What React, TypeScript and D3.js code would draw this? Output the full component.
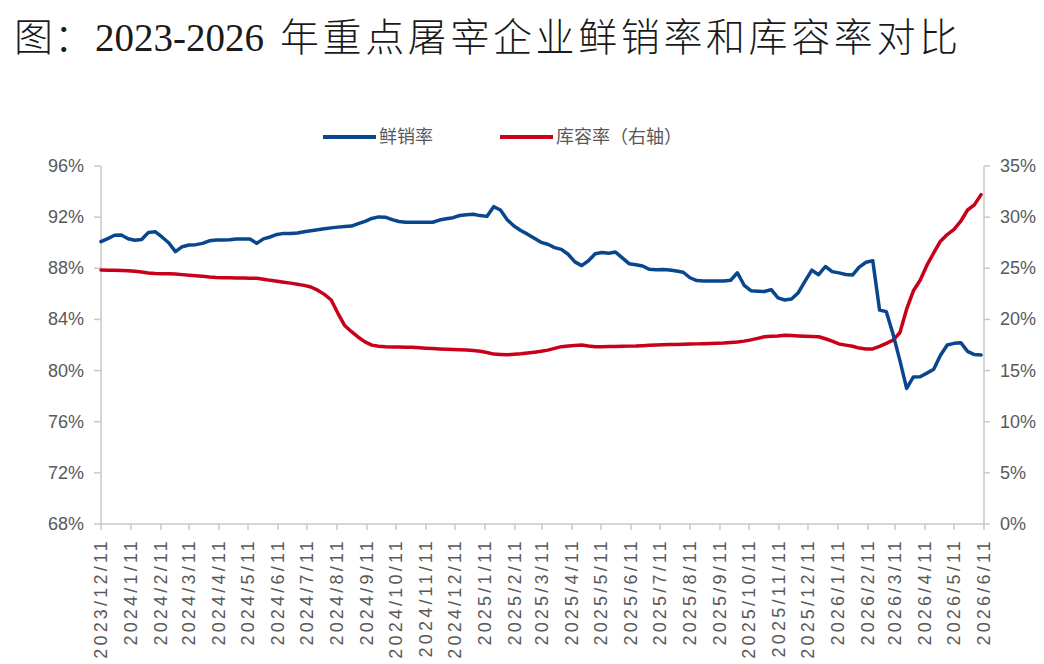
import React from "react";
import * as d3 from "d3";

// 鲜销率 (%), weekly from 2023/12/11
const freshSales: number[] = [
  90.08, 90.32, 90.58, 90.6, 90.31, 90.19, 90.25, 90.8, 90.86, 90.45,
  90.0, 89.3, 89.69, 89.82, 89.85, 89.95, 90.15, 90.21, 90.21, 90.23,
  90.29, 90.29, 90.29, 89.95, 90.3, 90.45, 90.65, 90.73, 90.73, 90.76,
  90.85, 90.94, 91.01, 91.09, 91.16, 91.22, 91.27, 91.3, 91.49, 91.67,
  91.9, 92.02, 92.0, 91.81, 91.66, 91.6, 91.6, 91.6, 91.6, 91.6,
  91.77, 91.87, 91.96, 92.13, 92.19, 92.22, 92.12, 92.06, 92.82, 92.56,
  91.8, 91.3, 90.96, 90.67, 90.35, 90.03, 89.88, 89.62, 89.48, 89.1,
  88.5, 88.21, 88.59, 89.14, 89.24, 89.18, 89.27, 88.82, 88.36, 88.28,
  88.18, 87.92, 87.88, 87.91, 87.86, 87.78, 87.69, 87.26, 87.04, 87.0,
  87.0, 87.0, 87.0, 87.06, 87.65, 86.67, 86.25, 86.21, 86.18, 86.33,
  85.69, 85.52, 85.59, 86.09, 86.99, 87.85, 87.5, 88.14, 87.74, 87.64,
  87.51, 87.47, 88.09, 88.47, 88.59, 84.74, 84.61, 82.84, 80.8, 78.61,
  79.5, 79.52, 79.8, 80.1, 81.2, 82.0, 82.13, 82.18, 81.5, 81.25,
  81.22,
];

// 库容率 (%, right axis), weekly from 2023/12/11
const storage: number[] = [
  24.83, 24.82, 24.8, 24.79, 24.77, 24.7, 24.63, 24.55, 24.5, 24.47,
  24.46, 24.44, 24.38, 24.33, 24.27, 24.21, 24.14, 24.09, 24.08, 24.07,
  24.05, 24.04, 24.03, 24.02, 23.93, 23.82, 23.73, 23.64, 23.55, 23.44,
  23.33, 23.17, 22.86, 22.45, 21.9, 20.6, 19.4, 18.8, 18.26, 17.8,
  17.49, 17.38, 17.32, 17.31, 17.3, 17.28, 17.27, 17.23, 17.19, 17.15,
  17.12, 17.09, 17.07, 17.04, 17.01, 16.96, 16.89, 16.77, 16.61, 16.58,
  16.55, 16.6, 16.65, 16.72, 16.8, 16.88, 17.0, 17.17, 17.34, 17.4,
  17.45, 17.5, 17.4, 17.33, 17.34, 17.35, 17.36, 17.37, 17.39, 17.4,
  17.43, 17.47, 17.5, 17.52, 17.54, 17.56, 17.57, 17.59, 17.61, 17.62,
  17.64, 17.66, 17.69, 17.74, 17.79, 17.88, 18.0, 18.15, 18.31, 18.35,
  18.38, 18.45, 18.43, 18.39, 18.36, 18.34, 18.31, 18.11, 17.87, 17.6,
  17.49, 17.38, 17.2, 17.11, 17.11, 17.37, 17.66, 17.97, 18.7, 21.0,
  22.8, 23.83, 25.3, 26.5, 27.65, 28.3, 28.8, 29.6, 30.7, 31.2,
  32.2,
];

const leftTicks: number[] = [68, 72, 76, 80, 84, 88, 92, 96];
const rightTicks: number[] = [0, 5, 10, 15, 20, 25, 30, 35];

const startDate = new Date(2023, 11, 11);
const endDate = new Date(2026, 5, 11);
const dates: Date[] = freshSales.map((_, i) => d3.timeDay.offset(startDate, i * 7));
const monthTicks: Date[] = d3.range(31).map((k) => new Date(2023, 11 + k, 11));

const titlePrefix = "图：";
const titleYears = "2023-2026";
const titleRest = "年重点屠宰企业鲜销率和库容率对比";

const W = 1044;
const H = 664;
const BLUE = "#0a468e";
const RED = "#c80019";
const AXIS = "#c8c8c8";
const LABEL = "#595959";

export default function App() {
  const x = d3.scaleTime().domain([startDate, endDate]).range([101, 984]);
  const yL = d3.scaleLinear().domain([68, 96]).range([524, 166]);
  const yR = d3.scaleLinear().domain([0, 35]).range([524, 166]);

  const blueLine = d3
    .line<number>()
    .x((_, i) => x(dates[i]))
    .y((d) => yL(d));
  const redLine = d3
    .line<number>()
    .x((_, i) => x(dates[i]))
    .y((d) => yR(d));

  const fmt = (d: Date) => `${d.getFullYear()}/${d.getMonth() + 1}/${d.getDate()}`;
  const sans = "'Liberation Sans', Arial, 'Noto Sans CJK SC', sans-serif";

  return (
    <div style={{ position: "fixed", left: 0, top: 0 }}>
      <svg width={W} height={H} style={{ display: "block", background: "#fff" }}>
        <text
          x={14}
          y={51}
          fontSize={39}
          fontFamily="'Liberation Serif', 'Noto Sans CJK SC', serif"
          fontWeight={300}
          fill="#1a1a1a"
        >
          <tspan letterSpacing={1}>{titlePrefix}</tspan>
          <tspan x={95} letterSpacing={0}>{titleYears}</tspan>
          <tspan x={280} letterSpacing={3.6}>{titleRest}</tspan>
        </text>

        {/* legend */}
        <g fontFamily={sans} fontSize={18} fill={LABEL}>
          <line x1={323} x2={376} y1={137} y2={137} stroke={BLUE} strokeWidth={4} />
          <text x={379} y={143}>鲜销率</text>
          <line x1={500} x2={553} y1={137} y2={137} stroke={RED} strokeWidth={4} />
          <text x={556} y={143}>库容率（右轴）</text>
        </g>

        {/* axes */}
        <g stroke={AXIS} strokeWidth={1.5} fill="none">
          <line x1={x(startDate)} x2={x(startDate)} y1={yL(96)} y2={yL(68)} />
          <line x1={x(endDate)} x2={x(endDate)} y1={yR(35)} y2={yR(0)} />
          <line x1={x(startDate)} x2={x(endDate)} y1={yL(68)} y2={yL(68)} />
          {leftTicks.map((t) => (
            <line key={"lt" + t} x1={94} x2={x(startDate)} y1={yL(t)} y2={yL(t)} />
          ))}
          {rightTicks.map((t) => (
            <line key={"rt" + t} x1={x(endDate)} x2={x(endDate) + 6} y1={yR(t)} y2={yR(t)} />
          ))}
          {monthTicks.map((d, i) => (
            <line key={"xt" + i} x1={x(d)} x2={x(d)} y1={yL(68)} y2={yL(68) + 6} />
          ))}
        </g>

        <g fontFamily={sans} fontSize={18} fill={LABEL}>
          {leftTicks.map((t) => (
            <text key={"ll" + t} x={84} y={yL(t)} textAnchor="end" dominantBaseline="central">
              {t}%
            </text>
          ))}
          {rightTicks.map((t) => (
            <text key={"rl" + t} x={1000} y={yR(t)} textAnchor="start" dominantBaseline="central">
              {t}%
            </text>
          ))}
          {monthTicks.map((d, i) => (
            <text
              key={"xl" + i}
              transform={`translate(${x(d)},${538}) rotate(-90)`}
              textAnchor="end"
              dominantBaseline="central"
              letterSpacing={3.2}
            >
              {fmt(d)}
            </text>
          ))}
        </g>

        {/* series */}
        <path d={redLine(storage) || ""} fill="none" stroke={RED} strokeWidth={3.5} strokeLinejoin="round" strokeLinecap="round" />
        <path d={blueLine(freshSales) || ""} fill="none" stroke={BLUE} strokeWidth={3.5} strokeLinejoin="round" strokeLinecap="round" />
      </svg>
    </div>
  );
}
